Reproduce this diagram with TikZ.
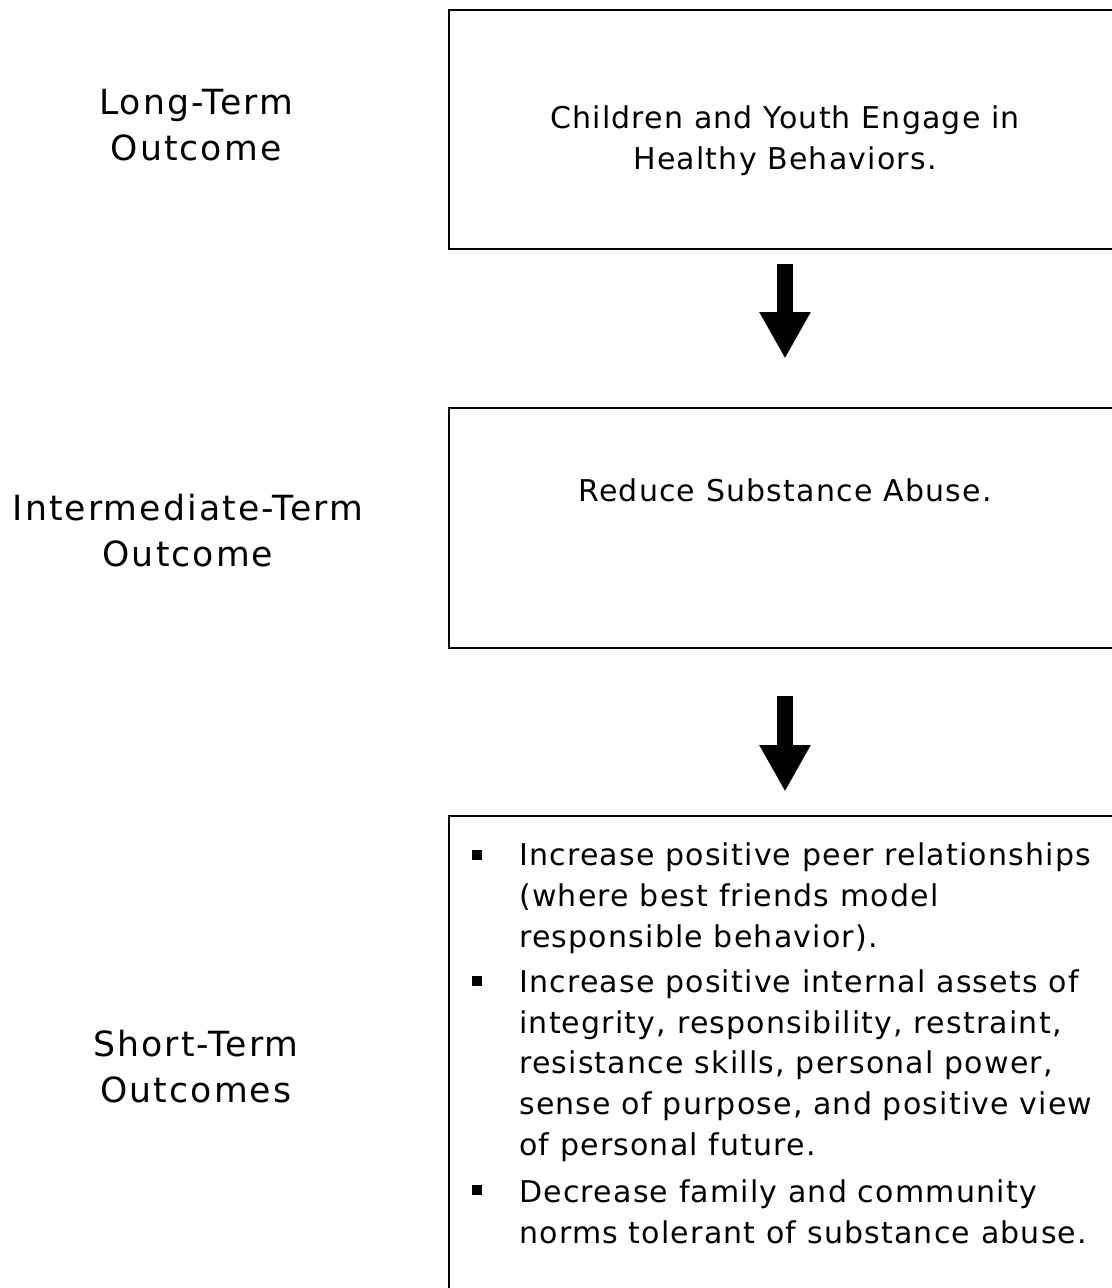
\documentclass[tikz,border=0pt]{standalone}
\usepackage{fontspec}
\setmainfont{DejaVu Sans}
\newfontfamily\labelfont[LetterSpace=6]{DejaVu Sans}
\newfontfamily\boxfont[LetterSpace=4]{DejaVu Sans}
\usetikzlibrary{positioning,arrows.meta}

\tikzset{
  box/.style={draw, line width=2pt, minimum width=504pt},
  outlabel/.style={align=center, inner sep=0pt, font=\labelfont\fontsize{26}{34.5}\selectfont},
  boxtext/.style={align=center, inner sep=0pt, font=\boxfont\fontsize{22.5}{30.5}\selectfont},
  bullettext/.style={align=left, inner sep=0pt, anchor=base west, font=\boxfont\fontsize{22.5}{30.5}\selectfont},
  bulletmark/.style={fill, inner sep=0pt, minimum size=7.5pt},
  bigarrow/.style={line width=12pt, -{Triangle[length=35pt, width=36pt]}}
}

\begin{document}
\begin{tikzpicture}[x=0.75pt, y=-0.75pt]
  \useasboundingbox (0,0) rectangle (1112,1288);
  \clip (0,0) rectangle (1112,1288);

  % boxes
  \node[box, minimum height=179.25pt] (long)  at (785,129.5) {};
  \node[box, minimum height=180pt]    (inter) at (785,528) {};
  \node[box, minimum height=370.5pt]  (short) at (785,1063) {};

  % outcome names
  \node[outlabel] (longname)  at (196,125) {Long-Term\\Outcome};
  \node[outlabel] (intername) at (188,530.5) {Intermediate-Term\\Outcome};
  \node[outlabel] (shortname) at (196,1066.5) {Short-Term\\Outcomes};

  % box texts
  \node[boxtext] (longtext)  at (785,141) {Children and Youth Engage in\\Healthy Behaviors.};
  \node[boxtext] (intertext) at (785,490) {Reduce Substance Abuse.};

  % bullets (last line on the given baseline)
  \node[bulletmark] (m1) at (477,855) {};
  \node[bulletmark] (m2) at (477,981) {};
  \node[bulletmark] (m3) at (477,1190) {};
  \node[bullettext] (t1) at (519,947) {Increase positive peer relationships\\(where best friends model\\responsible behavior).};
  \node[bullettext] (t2) at (519,1155) {Increase positive internal assets of\\integrity, responsibility, restraint,\\resistance skills, personal power,\\sense of purpose, and positive view\\of personal future.};
  \node[bullettext] (t3) at (519,1243) {Decrease family and community\\norms tolerant of substance abuse.};

  % arrows
  \draw[bigarrow, shorten <=10.5pt, shorten >=36pt] (long.south) -- (inter.north);
  \draw[bigarrow, shorten <=35.25pt, shorten >=17.25pt] (inter.south) -- (short.north);
\end{tikzpicture}
\end{document}
